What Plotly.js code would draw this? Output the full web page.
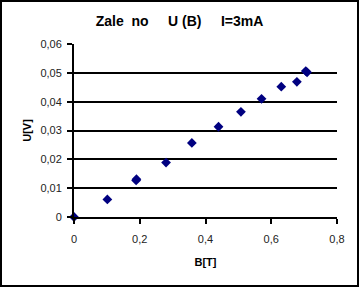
<!DOCTYPE html>
<html>
<head>
<meta charset="utf-8">
<script src="https://cdn.plot.ly/plotly-3.0.1.min.js"></script>
<style>
  html, body { margin: 0; padding: 0; background: #fff; }
  #wrap { position: relative; width: 359px; height: 287px; }
  #chart { width: 359px; height: 287px; }
  #frame { position: absolute; left: 0; top: 0; width: 359px; height: 287px; box-sizing: border-box;
           border: 2px solid #000; pointer-events: none; }
</style>
</head>
<body>
<div id="wrap"><div id="chart"></div><div id="frame"></div></div>
<script>
const B = [0, 0.1015, 0.189, 0.19, 0.28, 0.3585, 0.4396, 0.5078, 0.5705, 0.6305, 0.678, 0.705, 0.709];
const U = [0, 0.0061, 0.0127, 0.0131, 0.0189, 0.0257, 0.0313, 0.0365, 0.0410, 0.0452, 0.0469, 0.0506, 0.0502];
const titleText = "Zale\u00A0\u00A0no\u00A0\u00A0\u00A0\u00A0\u00A0U\u00A0(B)\u00A0\u00A0\u00A0\u00A0\u00A0I=3mA";
const xTitle = "B[T]";
const yTitle = "U[V]";

const font = "Arial, 'Liberation Sans', sans-serif";

Plotly.newPlot("chart", [{
  x: B, y: U, type: "scatter", mode: "markers",
  marker: { symbol: "diamond", size: 7.5, color: "#000080" },
  cliponaxis: false, hoverinfo: "none"
}], {
  width: 359, height: 287,
  margin: { l: 74, r: 22, t: 44, b: 70 },
  paper_bgcolor: "#fff", plot_bgcolor: "#fff",
  separators: ",.",
  showlegend: false,
  font: { family: font, color: "#000", size: 10 },
  title: { text: "<b>" + titleText + "</b>", x: 0.5, xref: "container", y: 0.928, yref: "container",
           yanchor: "middle", font: { size: 14, family: font, color: "#000" } },
  xaxis: {
    range: [0, 0.8], dtick: 0.2, tick0: 0,
    showgrid: false, zeroline: false,
    showline: true, linecolor: "#000", linewidth: 2,
    ticks: "outside", ticklen: 5, tickwidth: 2, tickcolor: "#000",
    ticklabelstandoff: 6,
    tickfont: { size: 11, family: font, color: "#222" },
    title: { text: "<b>" + xTitle + "</b>", font: { size: 11, family: font, color: "#000" }, standoff: 14 }
  },
  yaxis: {
    range: [0, 0.06], dtick: 0.01, tick0: 0,
    showgrid: true, gridcolor: "#000", gridwidth: 2, zeroline: false,
    showline: true, linecolor: "#000", linewidth: 2,
    ticks: "outside", ticklen: 5, tickwidth: 2, tickcolor: "#000",
    ticklabelstandoff: 3,
    tickfont: { size: 11, family: font, color: "#222" },
    title: { text: "<b>" + yTitle + "</b>", font: { size: 11, family: font, color: "#000" }, standoff: 7 }
  }
}, { staticPlot: true });
</script>
</body>
</html>
